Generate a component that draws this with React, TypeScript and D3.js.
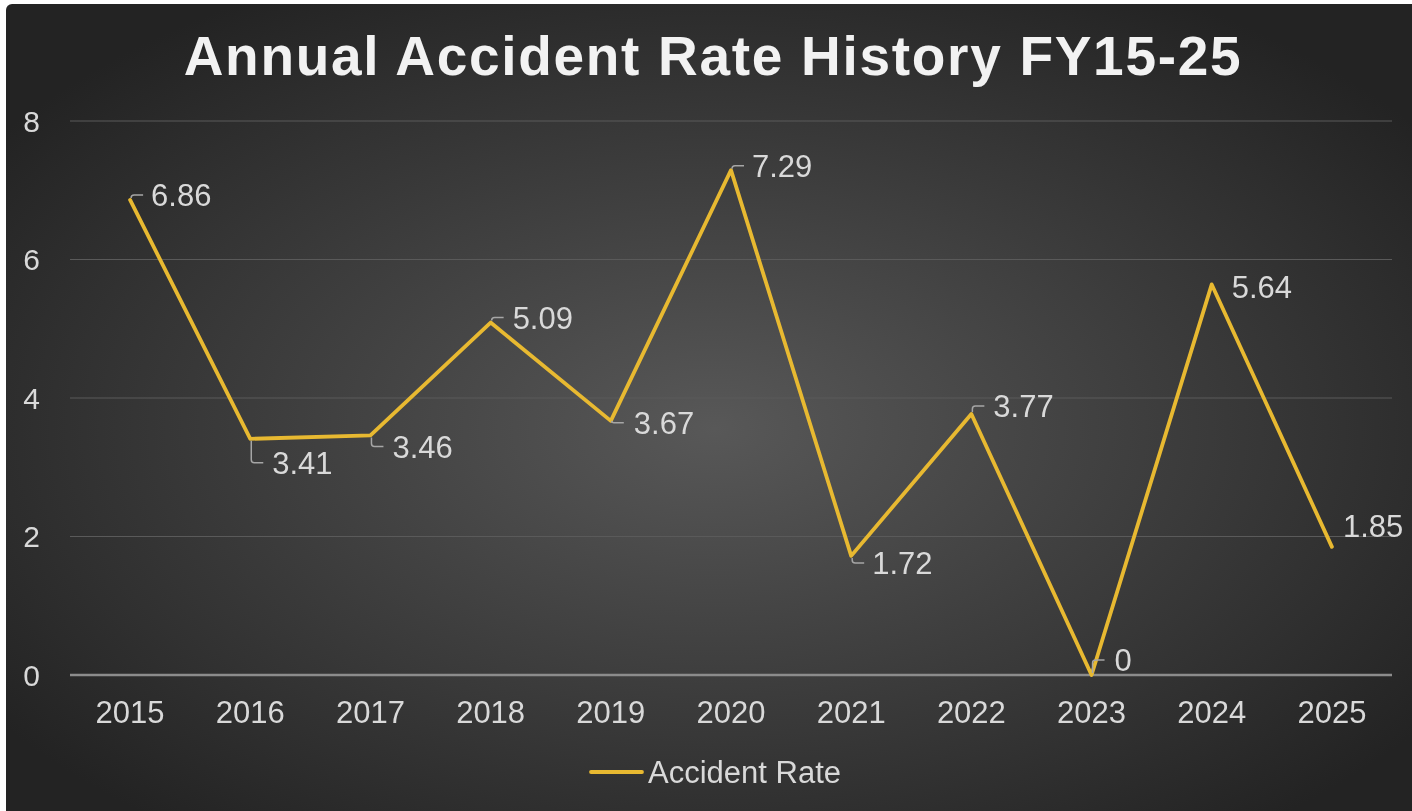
import React, { useEffect, useRef } from "react";
import * as d3 from "d3";

const years = ["2015", "2016", "2017", "2018", "2019", "2020", "2021", "2022", "2023", "2024", "2025"];
const accidentRate = [6.86, 3.41, 3.46, 5.09, 3.67, 7.29, 1.72, 3.77, 0, 5.64, 1.85];
const yTicks = [0, 2, 4, 6, 8];

// label placement relative to the point (layout only)
const labelOffsets: [number, number][] = [
  [21, -5], [22, 24], [22, 11], [22, -5], [23, 2], [21, -4.5],
  [21, 7], [22, -8], [23, -15], [20, 2], [11, -21],
];

const App = () => {
  const svgRef = useRef<SVGSVGElement>(null);

  useEffect(() => {
    const width = 1412;
    const height = 811;
    const left = 70;
    const right = 1392;
    const font = "'Liberation Sans', Arial, sans-serif";

    const svg = d3.select(svgRef.current)
      .attr("width", width)
      .attr("height", height)
      .style("position", "fixed")
      .style("top", 0)
      .style("left", 0)
      .style("font-family", font);
    svg.selectAll("*").remove();

    const defs = svg.append("defs");
    const grad = defs.append("radialGradient")
      .attr("id", "bg")
      .attr("cx", "50%").attr("cy", "52%").attr("r", "62%");
    grad.append("stop").attr("offset", "0%").attr("stop-color", "#585858");
    grad.append("stop").attr("offset", "100%").attr("stop-color", "#232323");

    svg.append("rect")
      .attr("x", 6).attr("y", 4)
      .attr("width", width - 6 + 10).attr("height", height - 4 + 10)
      .attr("rx", 6)
      .attr("fill", "url(#bg)");

    const x = d3.scaleBand().domain(years).range([left, right]);
    const y = d3.scaleLinear().domain([0, 8]).range([675, 121]);
    const cx = (d: string) => (x(d) ?? 0) + x.bandwidth() / 2;

    // gridlines
    svg.append("g")
      .selectAll("line")
      .data(yTicks.filter((t) => t !== 0))
      .join("line")
      .attr("x1", left).attr("x2", right)
      .attr("y1", (d) => y(d)).attr("y2", (d) => y(d))
      .attr("stroke", "#5a5a5a")
      .attr("stroke-width", 1);

    // x axis line
    svg.append("line")
      .attr("x1", left).attr("x2", right)
      .attr("y1", y(0)).attr("y2", y(0))
      .attr("stroke", "#8c8c8c")
      .attr("stroke-width", 2.5);

    svg.append("g")
      .selectAll("text")
      .data(yTicks)
      .join("text")
      .attr("x", 40)
      .attr("y", (d) => y(d))
      .attr("dy", "0.36em")
      .attr("text-anchor", "end")
      .attr("font-size", 30)
      .attr("fill", "#d9d9d9")
      .text((d) => d);

    svg.append("g")
      .selectAll("text")
      .data(years)
      .join("text")
      .attr("x", (d) => cx(d))
      .attr("y", 712)
      .attr("dy", "0.36em")
      .attr("text-anchor", "middle")
      .attr("font-size", 31)
      .attr("fill", "#d9d9d9")
      .text((d) => d);

    const line = d3.line<number>()
      .x((_, i) => cx(years[i]))
      .y((d) => y(d));

    svg.append("path")
      .datum(accidentRate)
      .attr("d", line)
      .attr("fill", "none")
      .attr("stroke", "#e8b931")
      .attr("stroke-width", 3.8)
      .attr("stroke-linejoin", "round")
      .attr("stroke-linecap", "round");

    // leader lines
    const leaders = svg.append("g")
      .attr("fill", "none")
      .attr("stroke", "#a6a6a6")
      .attr("stroke-width", 1.5);
    accidentRate.forEach((v, i) => {
      if (i >= 9) return;
      const px = cx(years[i]);
      const py = y(v);
      const ly = py + labelOffsets[i][1];
      const r = Math.min(3, Math.abs(ly - py));
      const s = ly > py ? 1 : -1;
      leaders.append("path")
        .attr("d", `M${px + 1},${py + s * 2} L${px + 1},${ly - s * r} Q${px + 1},${ly} ${px + 1 + r},${ly} L${px + 13},${ly}`);
    });

    svg.append("g")
      .selectAll("text")
      .data(accidentRate)
      .join("text")
      .attr("x", (d, i) => cx(years[i]) + labelOffsets[i][0])
      .attr("y", (d, i) => y(d) + labelOffsets[i][1])
      .attr("dy", "0.36em")
      .attr("font-size", 31)
      .attr("fill", "#d9d9d9")
      .text((d) => d);

    svg.append("text")
      .attr("x", 713)
      .attr("y", 75)
      .attr("text-anchor", "middle")
      .attr("font-size", 55)
      .attr("font-weight", "bold")
      .attr("letter-spacing", 1.7)
      .attr("fill", "#f2f2f2")
      .text("Annual Accident Rate History FY15-25");

    // legend
    const legend = svg.append("g");
    legend.append("line")
      .attr("x1", 591).attr("x2", 642)
      .attr("y1", 772).attr("y2", 772)
      .attr("stroke", "#e8b931")
      .attr("stroke-width", 3.8)
      .attr("stroke-linecap", "round");
    legend.append("text")
      .attr("x", 648)
      .attr("y", 772)
      .attr("dy", "0.36em")
      .attr("font-size", 31)
      .attr("fill", "#d9d9d9")
      .text("Accident Rate");
  }, []);

  return <svg ref={svgRef}></svg>;
};

export default App;
